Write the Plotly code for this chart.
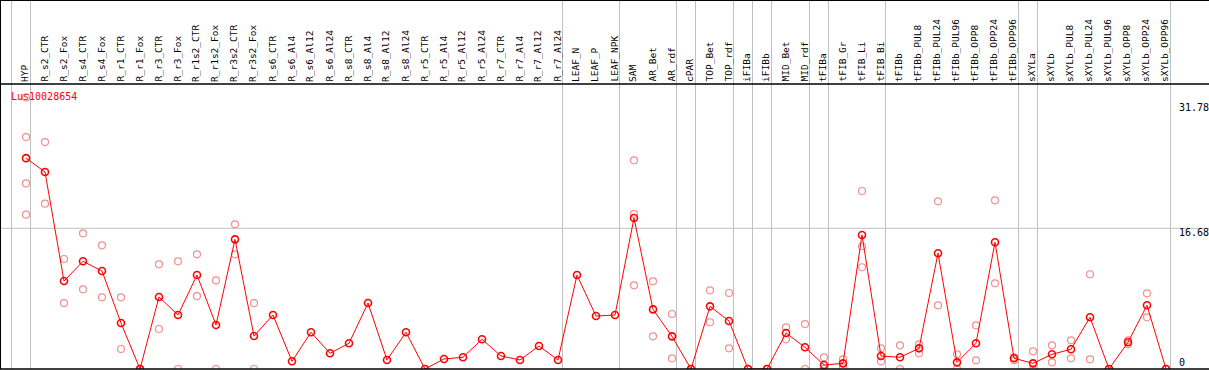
import plotly.graph_objects as go

categories = ["HYP", "R_s2_CTR", "R_s2_Fox", "R_s4_CTR", "R_s4_Fox", "R_r1_CTR", "R_r1_Fox",
              "R_r3_CTR", "R_r3_Fox", "R_r1s2_CTR", "R_r1s2_Fox", "R_r3s2_CTR", "R_r3s2_Fox",
              "R_s6_CTR", "R_s6_Al4", "R_s6_Al12", "R_s6_Al24", "R_s8_CTR", "R_s8_Al4", "R_s8_Al12",
              "R_s8_Al24", "R_r5_CTR", "R_r5_Al4", "R_r5_Al12", "R_r5_Al24", "R_r7_CTR", "R_r7_Al4",
              "R_r7_Al12", "R_r7_Al24", "LEAF_N", "LEAF_P", "LEAF_NPK", "SAM", "AR_Bet", "AR_rdf",
              "cPAR", "TOP_Bet", "TOP_rdf", "iFIBa", "iFIBb", "MID_Bet", "MID_rdf", "tFIBa",
              "tFIB_Gr", "tFIB_Li", "tFIB_Bi", "tFIBb", "tFIBb_PUL8", "tFIBb_PUL24", "tFIBb_PUL96",
              "tFIBb_OPP8", "tFIBb_OPP24", "tFIBb_OPP96", "sXYLa", "sXYLb", "sXYLb_PUL8",
              "sXYLb_PUL24", "sXYLb_PUL96", "sXYLb_OPP8", "sXYLb_OPP24", "sXYLb_OPP96"]

means = [25.0, 23.36, 10.43, 12.77, 11.62, 5.45, 0.0, 8.54, 6.40, 11.14, 5.22, 15.37, 3.91,
         6.40, 0.91, 4.35, 1.86, 3.05, 7.82, 1.07, 4.35, 0.0, 1.19, 1.39, 3.52, 1.54, 1.07,
         2.73, 1.07, 11.14, 6.28, 6.40, 17.9, 7.07, 3.87, 0.0, 7.43, 5.69, 0.0, 0.0, 4.27,
         2.57, 0.47, 0.67, 15.89, 1.54, 1.39, 2.45, 13.72, 0.79, 3.05, 15.02, 1.27, 0.67,
         1.74, 2.34, 6.13, 0.0, 3.17, 7.55, 0.0]

replicates = [[32.2, 27.5, 22.0, 18.3], [26.9, 19.6], [13.04, 7.82], [16.09, 9.45], [14.66, 8.50],
              [8.50, 2.37], [0.0, 0.0], [12.41, 4.74], [12.77, 0.0], [13.6, 8.65], [10.5, 0.0],
              [17.15, 13.6], [7.82, 0.0],
              [], [], [], [], [], [], [], [], [], [], [], [], [], [], [], [], [], [], [],
              [24.74, 18.4, 9.92], [10.4, 3.87], [6.52, 1.27], [0.0, 0.0], [9.33, 5.54],
              [9.01, 2.45], [0.0, 0.0], [0.0, 0.0], [4.94, 3.52], [5.33, 0.0], [1.39, 0.0],
              [1.15, 0.2], [21.1, 14.55, 12.06], [2.45, 0.91], [2.81, 0.0], [2.93, 1.86],
              [19.88, 7.55], [1.74, 0.0], [5.18, 1.03], [20.0, 10.16], [1.39, 1.03], [2.10, 0.0],
              [2.81, 0.79], [3.40, 1.27], [11.23, 1.15], [0.0, 0.0], [3.40, 2.93], [8.97, 6.13],
              [0.0, 0.0]]

group_starts = [0, 1, 29, 32, 35, 36, 38, 39, 40, 42, 43, 46, 53, 54, 61]
axis_labels = ["31.78", "16.68", "0"]
title = "Lus10028654"

W, H = 1209, 370
TOP, BOT = 84, 369
PX = 8.435           # pixels per unit
X0, DX = 26, 19      # pixel of first category, spacing
ymax = (BOT - TOP) / PX
plot_h = BOT - TOP

x_idx = list(range(len(categories)))
rx, ry = [], []
for i, reps in enumerate(replicates):
    for v in reps:
        rx.append(i)
        ry.append(v)

fig = go.Figure()
fig.add_trace(go.Scatter(x=rx, y=ry, mode="markers",
                         marker=dict(symbol="circle-open", size=7, color="#f09090",
                                     line=dict(width=1.2, color="#f09090")),
                         hoverinfo="skip", showlegend=False))
fig.add_trace(go.Scatter(x=x_idx, y=means, mode="lines+markers",
                         line=dict(color="#ff0000", width=1),
                         marker=dict(symbol="circle-open", size=7, color="#ff0000",
                                     line=dict(width=1.6, color="#ff0000")),
                         showlegend=False))

shapes = []
top_paper = 1 + TOP / plot_h
for k in group_starts:
    xv = k - 14.5 / DX
    shapes.append(dict(type="line", xref="x", yref="paper", x0=xv, x1=xv, y0=0, y1=top_paper,
                       line=dict(color="#c0c0c0", width=1), layer="below"))
shapes.append(dict(type="line", xref="paper", yref="y", x0=0, x1=1, y0=16.68, y1=16.68,
                   line=dict(color="#c0c0c0", width=1), layer="below"))
shapes.append(dict(type="line", xref="paper", yref="paper", x0=0, x1=1, y0=1, y1=1,
                   line=dict(color="black", width=1.5)))
shapes.append(dict(type="line", xref="paper", yref="paper", x0=0, x1=1, y0=top_paper, y1=top_paper,
                   line=dict(color="black", width=2)))
shapes.append(dict(type="line", xref="paper", yref="paper", x0=0, x1=1, y0=0, y1=0,
                   line=dict(color="black", width=1.5)))
shapes.append(dict(type="line", xref="paper", yref="paper", x0=0, x1=0, y0=0, y1=top_paper,
                   line=dict(color="black", width=2)))

annotations = []
font = dict(family="DejaVu Sans Mono", size=9.5, color="black")
for i, c in enumerate(categories):
    annotations.append(dict(x=i, xref="x", y=(BOT - 83) / plot_h, yref="paper", text=c,
                            textangle=-90, showarrow=False, xanchor="center", yanchor="bottom",
                            xshift=-1.5, font=font, borderpad=0))
annotations.append(dict(x=10 / W, xref="paper", y=(BOT - 96.7) / plot_h, yref="paper", text=title,
                        showarrow=False, xanchor="left", yanchor="middle", borderpad=0,
                        font=dict(family="DejaVu Sans Mono", size=10, color="#ff0000")))
label_px = [107, 232.5, 362]
for t, py in zip(axis_labels, label_px):
    annotations.append(dict(x=1178 / W, xref="paper", y=(BOT - py) / plot_h, yref="paper", text=t,
                            showarrow=False, xanchor="left", yanchor="middle", borderpad=0,
                            font=dict(family="DejaVu Sans Mono", size=10, color="black")))

fig.update_layout(
    width=W, height=H,
    margin=dict(l=0, r=0, t=TOP, b=H - BOT, pad=0),
    paper_bgcolor="white", plot_bgcolor="white",
    xaxis=dict(range=[-X0 / DX, (W - X0) / DX], visible=False, fixedrange=True),
    yaxis=dict(range=[0, ymax], visible=False, fixedrange=True),
    shapes=shapes, annotations=annotations,
)
fig.write_html("out.html", config={"displayModeBar": False},
               post_script="document.body.style.margin='0';document.body.style.overflow='hidden';")
